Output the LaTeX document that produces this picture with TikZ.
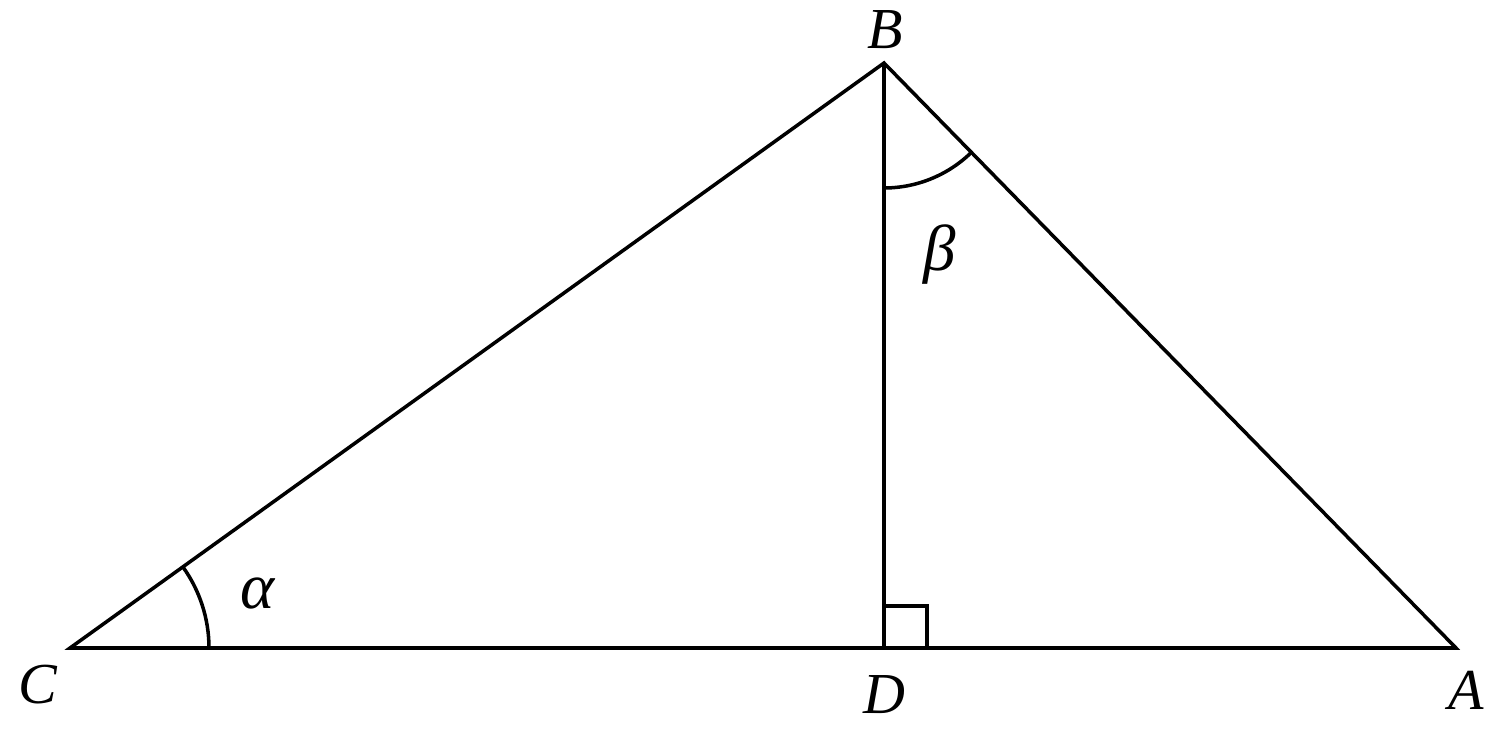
\documentclass[tikz,border=0pt]{standalone}
\usepackage{fontspec}
\setmainfont{Liberation Serif}[ItalicFont={Liberation Serif Italic}]

\begin{document}
\begin{tikzpicture}[line width=2pt,
    lbl/.style={font=\fontsize{33}{33}\selectfont\itshape},
    grk/.style={font=\fontsize{37}{37}\selectfont\itshape}]
  \useasboundingbox (0,0) rectangle (30.02,14.66);

  \coordinate (C) at (1.4,1.7);
  \coordinate (B) at (17.68,13.4);
  \coordinate (A) at (29.12,1.7);
  \coordinate (D) at (17.68,1.7);

  \draw (C) -- (B) -- (A) -- cycle;
  \draw (B) -- (D);
  \draw ([yshift=0.84cm]D) -| ([xshift=0.86cm]D);

  % angles
  \draw ([shift={(0:2.78)}]C) arc[start angle=0, end angle=35.7, radius=2.78];
  \draw ([shift={(270:2.5)}]B) arc[start angle=270, end angle=314.35, radius=2.5];

  \node[lbl] (lB) at (17.7,14.06) {B};
  \node[lbl] (lC) at (0.76,0.96) {C};
  \node[lbl] (lD) at (17.68,0.76) {D};
  \node[lbl] (lA) at (29.32,0.86) {A};
  \node[grk] (la) at (5.16,2.8) {α};
  \node[grk] (lb) at (18.8,9.56) {β};
\end{tikzpicture}
\end{document}
